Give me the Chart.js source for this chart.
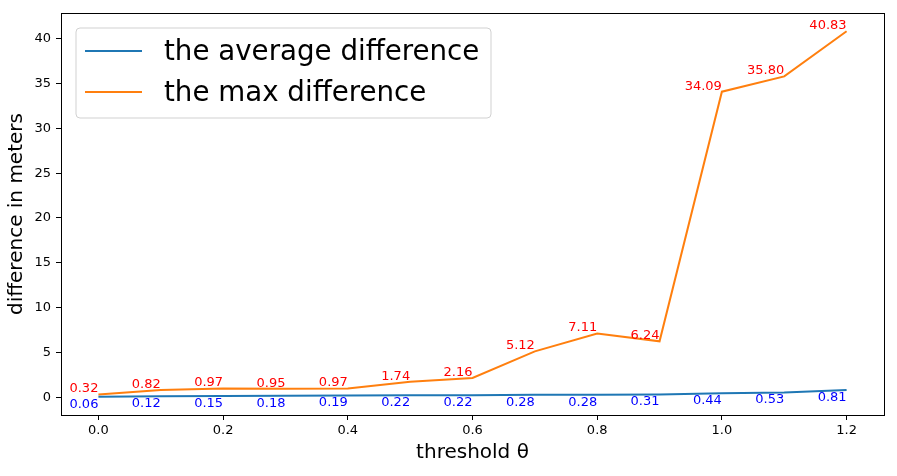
<!DOCTYPE html>
<html>
<head>
<meta charset="utf-8">
<script src="https://cdn.jsdelivr.net/npm/chart.js@4/dist/chart.umd.min.js"></script>
<style>
  html, body { margin: 0; padding: 0; background: #fff; }
  #wrap { width: 897px; height: 476px; position: relative; }
</style>
</head>
<body>
<div id="wrap"><canvas id="c"></canvas></div>
<script>
const thresholds = [0.0, 0.1, 0.2, 0.3, 0.4, 0.5, 0.6, 0.7, 0.8, 0.9, 1.0, 1.1, 1.2];
const avgDiff = [0.06, 0.12, 0.15, 0.18, 0.19, 0.22, 0.22, 0.28, 0.28, 0.31, 0.44, 0.53, 0.81];
const maxDiff = [0.32, 0.82, 0.97, 0.95, 0.97, 1.74, 2.16, 5.12, 7.11, 6.24, 34.09, 35.80, 40.83];
const xTicks = [0.0, 0.2, 0.4, 0.6, 0.8, 1.0, 1.2];
const yTicks = [0, 5, 10, 15, 20, 25, 30, 35, 40];
const seriesNames = ['the average difference', 'the max difference'];

const FONT = 'DejaVu Sans';
const C_BLUE = '#1f77b4', C_ORANGE = '#ff7f0e';

const toPts = (ys) => thresholds.map((x, i) => ({x: x, y: ys[i]}));

const frameAndLabels = {
  id: 'frameAndLabels',
  afterDatasetsDraw(chart) {
    const {ctx, chartArea: a, scales: {x, y}} = chart;
    ctx.save();
    // data labels
    ctx.font = '13px "' + FONT + '"';
    ctx.textAlign = 'right';
    ctx.fillStyle = '#ff0000';
    ctx.textBaseline = 'bottom';
    maxDiff.forEach((v, i) => {
      ctx.fillText(v.toFixed(2), x.getPixelForValue(thresholds[i]), y.getPixelForValue(v) + 1);
    });
    ctx.fillStyle = '#0000ff';
    ctx.textBaseline = 'top';
    avgDiff.forEach((v, i) => {
      ctx.fillText(v.toFixed(2), x.getPixelForValue(thresholds[i]), y.getPixelForValue(v) + 1);
    });
    // frame
    ctx.strokeStyle = '#000';
    ctx.lineWidth = 1;
    ctx.strokeRect(Math.round(a.left) + 0.5, Math.round(a.top) + 0.5,
                   Math.round(a.right - a.left), Math.round(a.bottom - a.top));
    // legend
    const bx = 76, by = 28, bw = 415, bh = 90, r = 4;
    ctx.beginPath();
    ctx.moveTo(bx + r, by);
    ctx.arcTo(bx + bw, by, bx + bw, by + bh, r);
    ctx.arcTo(bx + bw, by + bh, bx, by + bh, r);
    ctx.arcTo(bx, by + bh, bx, by, r);
    ctx.arcTo(bx, by, bx + bw, by, r);
    ctx.closePath();
    ctx.fillStyle = 'rgba(255,255,255,0.8)';
    ctx.fill();
    ctx.strokeStyle = 'rgba(204,204,204,0.9)';
    ctx.lineWidth = 1;
    ctx.stroke();
    const rows = [[C_BLUE, 51], [C_ORANGE, 92]];
    ctx.font = '27.7px "' + FONT + '"';
    ctx.textAlign = 'left';
    ctx.textBaseline = 'middle';
    rows.forEach(([col, ly], i) => {
      ctx.strokeStyle = col;
      ctx.lineWidth = 2;
      ctx.beginPath();
      ctx.moveTo(85, ly);
      ctx.lineTo(142, ly);
      ctx.stroke();
      ctx.fillStyle = '#000';
      ctx.fillText(seriesNames[i], 164, ly + 2);
    });
    ctx.restore();
  }
};

new Chart(document.getElementById('c'), {
  type: 'line',
  data: {
    datasets: [
      { label: seriesNames[0], data: toPts(avgDiff), borderColor: C_BLUE, backgroundColor: C_BLUE,
        borderWidth: 2, pointRadius: 0, tension: 0, fill: false },
      { label: seriesNames[1], data: toPts(maxDiff), borderColor: C_ORANGE, backgroundColor: C_ORANGE,
        borderWidth: 2, pointRadius: 0, tension: 0, fill: false }
    ]
  },
  options: {
    responsive: true,
    maintainAspectRatio: false,
    animation: false,
    layout: { padding: { left: 0, top: 13, right: 13, bottom: 0 } },
    plugins: { legend: { display: false }, tooltip: { enabled: false } },
    scales: {
      x: {
        type: 'linear',
        min: -0.06, max: 1.26,
        afterBuildTicks: (s) => { s.ticks = xTicks.map(v => ({value: v})); },
        afterFit: (s) => { s.height = 61; },
        grid: { display: true, drawOnChartArea: false, drawTicks: true, tickLength: 5, color: '#000' },
        border: { display: true, color: '#000' },
        ticks: { color: '#000', font: { family: FONT, size: 13 }, padding: 3, maxRotation: 0,
                 callback: (v) => Number(v).toFixed(1) },
        title: { display: true, text: 'threshold θ', color: '#000',
                 font: { family: FONT, size: 20 }, padding: { top: 0, bottom: 11 } }
      },
      y: {
        type: 'linear',
        min: -1.98, max: 42.87,
        afterBuildTicks: (s) => { s.ticks = yTicks.map(v => ({value: v})); },
        afterFit: (s) => { s.width = 61; },
        grid: { display: true, drawOnChartArea: false, drawTicks: true, tickLength: 5, color: '#000' },
        border: { display: true, color: '#000' },
        ticks: { color: '#000', font: { family: FONT, size: 13 }, padding: 5,
                 callback: (v) => String(v) },
        title: { display: true, text: 'difference in meters', color: '#000',
                 font: { family: FONT, size: 20 }, padding: { top: 5, bottom: 0 } }
      }
    }
  },
  plugins: [frameAndLabels]
});
</script>
</body>
</html>
